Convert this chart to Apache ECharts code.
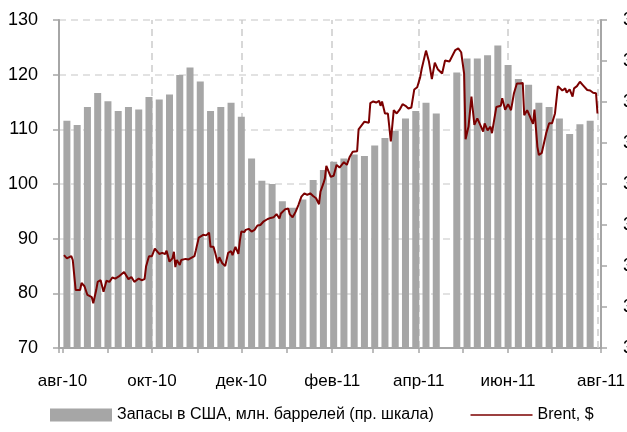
<!DOCTYPE html>
<html>
<head>
<meta charset="utf-8">
<script src="https://cdn.jsdelivr.net/npm/echarts@6/dist/echarts.min.js"></script>
<style>
  html, body { margin: 0; padding: 0; background: #fff; }
  #chart { width: 627px; height: 432px; }
</style>
</head>
<body>
<div id="chart"></div>
<script>
// Brent, $ (left scale)
const brentDates = [
  '2010-08-02', '2010-08-04', '2010-08-05', '2010-08-07', '2010-08-08', '2010-08-10', '2010-08-13', '2010-08-14',
  '2010-08-16', '2010-08-18', '2010-08-21', '2010-08-22', '2010-08-24', '2010-08-25', '2010-08-27', '2010-08-29',
  '2010-08-31', '2010-09-02', '2010-09-04', '2010-09-06', '2010-09-09', '2010-09-12', '2010-09-15', '2010-09-17',
  '2010-09-19', '2010-09-22', '2010-09-24', '2010-09-26', '2010-09-27', '2010-09-29', '2010-10-01', '2010-10-03',
  '2010-10-04', '2010-10-06', '2010-10-08', '2010-10-10', '2010-10-11', '2010-10-13', '2010-10-15', '2010-10-16',
  '2010-10-17', '2010-10-18', '2010-10-20', '2010-10-21', '2010-10-24', '2010-10-26', '2010-10-27', '2010-10-30',
  '2010-10-31', '2010-11-02', '2010-11-05', '2010-11-07', '2010-11-09', '2010-11-10', '2010-11-12', '2010-11-13',
  '2010-11-15', '2010-11-16', '2010-11-18', '2010-11-20', '2010-11-22', '2010-11-24', '2010-11-25', '2010-11-27',
  '2010-11-29', '2010-11-30', '2010-12-01', '2010-12-03', '2010-12-04', '2010-12-06', '2010-12-08', '2010-12-10',
  '2010-12-12', '2010-12-14', '2010-12-16', '2010-12-19', '2010-12-21', '2010-12-23', '2010-12-25', '2010-12-27',
  '2010-12-28', '2010-12-31', '2011-01-02', '2011-01-03', '2011-01-05', '2011-01-07', '2011-01-09', '2011-01-11',
  '2011-01-13', '2011-01-15', '2011-01-17', '2011-01-19', '2011-01-21', '2011-01-23', '2011-01-24', '2011-01-25',
  '2011-01-26', '2011-01-27', '2011-01-28', '2011-01-31', '2011-02-02', '2011-02-04', '2011-02-06', '2011-02-09',
  '2011-02-11', '2011-02-13', '2011-02-15', '2011-02-18', '2011-02-19', '2011-02-23', '2011-02-26', '2011-02-27',
  '2011-03-01', '2011-03-03', '2011-03-05', '2011-03-06', '2011-03-07', '2011-03-09', '2011-03-11', '2011-03-12',
  '2011-03-13', '2011-03-15', '2011-03-17', '2011-03-19', '2011-03-21', '2011-03-23', '2011-03-25', '2011-03-27',
  '2011-03-29', '2011-03-31', '2011-04-02', '2011-04-03', '2011-04-04', '2011-04-06', '2011-04-08', '2011-04-10',
  '2011-04-12', '2011-04-14', '2011-04-17', '2011-04-19', '2011-04-22', '2011-04-26', '2011-04-28', '2011-04-30',
  '2011-05-02', '2011-05-03', '2011-05-05', '2011-05-07', '2011-05-09', '2011-05-11', '2011-05-13', '2011-05-15',
  '2011-05-16', '2011-05-18', '2011-05-20', '2011-05-21', '2011-05-24', '2011-05-27', '2011-05-28', '2011-05-30',
  '2011-06-01', '2011-06-03', '2011-06-05', '2011-06-07', '2011-06-09', '2011-06-11', '2011-06-12', '2011-06-14',
  '2011-06-16', '2011-06-18', '2011-06-19', '2011-06-21', '2011-06-22', '2011-06-24', '2011-06-27', '2011-06-29',
  '2011-07-01', '2011-07-03', '2011-07-05', '2011-07-08', '2011-07-10', '2011-07-11', '2011-07-13', '2011-07-15',
  '2011-07-16', '2011-07-18', '2011-07-20', '2011-07-22', '2011-07-23', '2011-07-25', '2011-07-27', '2011-07-29',
  '2011-07-31', '2011-08-01'
]
const brentPrices = [
  87.0, 86.4, 86.6, 86.8, 86.1, 80.6, 80.6, 81.9,
  81.3, 79.7, 79.3, 78.2, 80.6, 82.1, 82.4, 80.3,
  82.3, 82.1, 82.9, 82.7, 83.2, 83.9, 82.6, 83.0,
  82.1, 82.7, 82.4, 82.6, 84.9, 86.8, 86.8, 88.2,
  88.1, 87.2, 87.4, 87.2, 87.8, 85.8, 86.4, 87.6,
  84.8, 86.1, 85.2, 86.1, 86.3, 86.2, 85.9, 86.8,
  87.9, 90.2, 90.7, 90.6, 91.1, 88.5, 88.5, 87.6,
  85.5, 86.6, 85.5, 85.0, 87.4, 87.7, 87.0, 88.5,
  87.2, 89.6, 91.3, 91.2, 91.6, 91.8, 91.3, 91.6,
  92.4, 92.5, 93.1, 93.6, 93.8, 93.9, 94.5, 93.7,
  94.6, 95.4, 95.5, 94.5, 93.9, 94.9, 96.2, 97.7,
  98.3, 98.0, 98.3, 97.8, 97.4, 96.3, 98.6, 98.9,
  100.1, 101.0, 103.3, 101.3, 101.5, 103.5, 103.0, 104.0,
  103.5, 105.0, 105.9, 106.0, 110.0, 111.4, 111.2, 114.8,
  115.1, 114.9, 115.2, 114.3, 115.1, 112.9, 112.9, 112.6,
  107.8, 113.5, 112.9, 113.6, 114.6, 114.3, 113.8, 114.0,
  117.3, 117.7, 119.5, 121.0, 121.0, 124.4, 122.4, 119.2,
  122.2, 121.0, 120.2, 122.6, 122.4, 124.5, 124.8, 124.1,
  120.2, 108.2, 110.5, 116.0, 110.8, 112.0, 110.8, 109.6,
  111.1, 109.8, 110.5, 109.3, 114.1, 114.3, 115.7, 113.6,
  114.6, 113.5, 116.6, 118.4, 118.4, 118.5, 112.6, 113.5,
  112.3, 111.0, 113.6, 106.8, 105.3, 105.7, 109.3, 111.1,
  111.1, 112.9, 117.9, 117.1, 117.5, 116.7, 117.3, 116.0,
  117.5, 117.9, 118.7, 118.1, 118.1, 117.2, 117.1, 116.7,
  116.6, 112.9
]

// Запасы в США, млн. баррелей (right scale), weekly
const stockDates = [
  '2010-08-04', '2010-08-11', '2010-08-18', '2010-08-25', '2010-09-01', '2010-09-08', '2010-09-15', '2010-09-22',
  '2010-09-29', '2010-10-06', '2010-10-13', '2010-10-20', '2010-10-27', '2010-11-03', '2010-11-10', '2010-11-17',
  '2010-11-24', '2010-12-01', '2010-12-08', '2010-12-15', '2010-12-22', '2010-12-29', '2011-01-05', '2011-01-12',
  '2011-01-19', '2011-01-26', '2011-02-02', '2011-02-09', '2011-02-16', '2011-02-23', '2011-03-02', '2011-03-09',
  '2011-03-16', '2011-03-23', '2011-03-30', '2011-04-06', '2011-04-13', '2011-04-20', '2011-04-27', '2011-05-04',
  '2011-05-11', '2011-05-18', '2011-05-25', '2011-06-01', '2011-06-08', '2011-06-15', '2011-06-22', '2011-06-29',
  '2011-07-06', '2011-07-13', '2011-07-20', '2011-07-27'
]
const stockValues = [
  357.7, 357.2, 359.4, 361.1, 360.1, 358.9, 359.4, 359.1,
  360.6, 360.3, 360.9, 363.3, 364.2, 362.5, 358.9, 359.4,
  359.9, 358.2, 353.1, 350.4, 350.0, 347.9, 347.1, 348.1,
  350.5, 351.7, 352.7, 353.1, 353.6, 353.4, 354.7, 355.6,
  356.5, 358.0, 358.9, 359.9, 358.6, null, 363.6, 365.3,
  365.3, 365.7, 366.9, 364.5, 362.8, 362.1, 359.9, 359.4,
  358.0, 356.1, 357.3, 357.7
]

const monthNames = ['янв', 'фев', 'мар', 'апр', 'май', 'июн', 'июл', 'авг', 'сен', 'окт', 'ноя', 'дек']
const gridDates = ['2010-10-01', '2010-12-01', '2011-02-01', '2011-04-01', '2011-06-01', '2011-08-01']

const stockName = 'Запасы в США, млн. баррелей (пр. шкала)'
const brentName = 'Brent, $'
const fontFamily = "'Liberation Sans', Arial, sans-serif"
const axisGray = '#a6a6a6'
const brentColor = '#7b0000'

const chart = echarts.init(document.getElementById('chart'), null, { renderer: 'canvas' })

const option = {
  animation: false,
  textStyle: { fontFamily },
  grid: {
    left: 59,
    right: 26,
    top: 20,
    bottom: 84,
    containLabel: false,
    outerBoundsMode: 'none'
  },
  legend: {
    left: 45,
    top: 402,
    itemWidth: 62,
    itemHeight: 13,
    itemGap: 36,
    textStyle: { fontSize: 16, color: '#000', fontFamily },
    data: [
      { name: stockName, icon: 'rect' },
      { name: brentName, itemStyle: { opacity: 0 }, lineStyle: { width: 1.5 } }
    ]
  },
  xAxis: {
    type: 'time',
    min: '2010-08-01',
    max: '2011-08-01',
    splitNumber: 12,
    minInterval: 28 * 24 * 3600 * 1000,
    maxInterval: 31 * 24 * 3600 * 1000,
    axisLine: { lineStyle: { color: axisGray, width: 2 } },
    axisTick: { show: true, length: 5, lineStyle: { color: axisGray, width: 1.5 } },
    splitLine: { show: false },
    axisLabel: {
      margin: 25,
      fontSize: 17,
      color: '#000',
      fontFamily,
      showMinLabel: true,
      showMaxLabel: true,
      formatter: (value) => {
        const d = new Date(value)
        const m = d.getMonth()
        if (m % 2 === 1) {
          return monthNames[m] + '-' + String(d.getFullYear()).slice(2)
        }
        return ''
      }
    }
  },
  yAxis: [
    {
      type: 'value',
      min: 70,
      max: 130,
      interval: 10,
      position: 'left',
      axisLine: { show: true, lineStyle: { color: axisGray, width: 2 } },
      axisTick: { show: true, length: 6, lineStyle: { color: axisGray, width: 1.5 } },
      splitLine: { show: true, lineStyle: { type: [7, 5], color: '#d9d9d9', width: 1.5 } },
      axisLabel: { margin: 21, fontSize: 18, color: '#000', fontFamily }
    },
    {
      type: 'value',
      min: 330,
      max: 370,
      interval: 5,
      position: 'right',
      axisLine: { show: true, lineStyle: { color: axisGray, width: 2 } },
      axisTick: { show: true, length: 6, lineStyle: { color: axisGray, width: 1.5 } },
      splitLine: { show: false },
      axisLabel: { margin: 22, fontSize: 18, color: '#000', fontFamily }
    }
  ],
  series: [
    {
      name: stockName,
      type: 'bar',
      yAxisIndex: 1,
      barWidth: 7,
      itemStyle: { color: '#a6a6a6' },
      data: stockDates.map((d, i) => [d, stockValues[i]]),
      markLine: {
        silent: true,
        z: 1,
        symbol: 'none',
        label: { show: false },
        lineStyle: { type: [7, 5], color: '#cccccc', width: 1.5 },
        data: gridDates.map((d) => ({ xAxis: d }))
      }
    },
    {
      name: brentName,
      type: 'line',
      yAxisIndex: 0,
      z: 3,
      showSymbol: false,
      symbol: 'none',
      itemStyle: { color: brentColor },
      lineStyle: { color: brentColor, width: 2 },
      data: brentDates.map((d, i) => [d, brentPrices[i]])
    }
  ]
}

chart.setOption(option)
</script>
</body>
</html>
